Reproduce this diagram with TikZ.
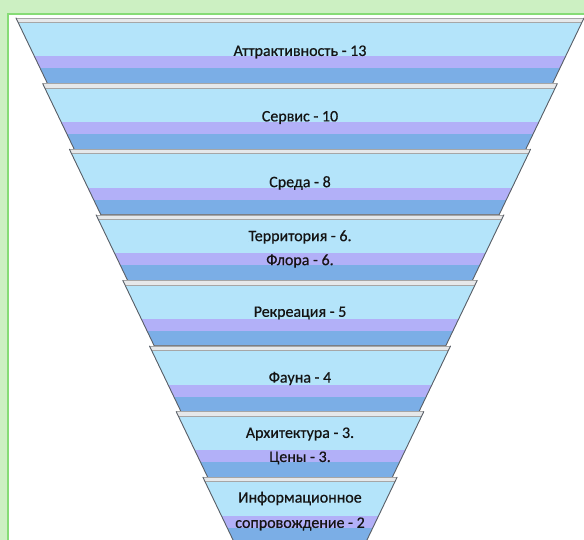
\documentclass[tikz,border=0pt]{standalone}
\usepackage{fontspec}
\setmainfont{Carlito}
\newfontfamily\lblfont[FakeBold=0.6]{Carlito}
\definecolor{bgG}{HTML}{CCF0C2}
\definecolor{bdG}{HTML}{86DC76}
\definecolor{lblue}{HTML}{B4E4FA}
\definecolor{lav}{HTML}{B2B0F8}
\definecolor{mblue}{HTML}{7BAEE6}
\definecolor{lidc}{HTML}{E6E8EA}
\definecolor{edgec}{HTML}{5A5F66}
\definecolor{txt}{HTML}{141414}
\tikzset{
  lbl/.style={font=\lblfont\fontsize{16}{18}\selectfont, text=txt, inner sep=0pt, anchor=center},
  sideline/.style={draw=edgec, line width=0.9pt, line cap=round},
  lidline/.style={draw=black!35, line width=0.5pt},
  botline/.style={draw=edgec!80, line width=0.5pt}
}
\begin{document}
\begin{tikzpicture}[x=1pt,y=-1pt]
\useasboundingbox (0,0) rectangle (584,540);
\clip (0,0) rectangle (584,540);
\fill[bgG] (0,0) rectangle (584,540);
\fill[white] (8,14) rectangle (584,540);
\draw[bdG, line width=1.2pt] (8,541) -- (8,14) -- (585,14);
\foreach \i in {0,...,7}{
  \pgfmathsetmacro\ty{18+65.6*\i}
  \pgfmathsetmacro\by{\ty+65.6}
  \pgfmathsetmacro\tw{284-26.7*\i}
  \pgfmathsetmacro\bw{\tw-31.5}
  \begin{scope}
    \clip (300-\tw,\ty) -- (300+\tw,\ty) -- (300+\bw,\by) -- (300-\bw,\by) -- cycle;
    \fill[mblue] (0,\ty) rectangle (584,\by);
    \fill[lav] (0,\ty) rectangle (584,\ty+50.5);
    \fill[lblue] (0,\ty) rectangle (584,\ty+38.5);
    \fill[lidc] (0,\ty) rectangle (584,\ty+4.5);
    \draw[lidline] (0,\ty+4.5) -- (584,\ty+4.5);
    \draw[botline] (0,\by-0.3) -- (584,\by-0.3);
  \end{scope}
  \draw[lidline] (300-\tw,\ty) -- (300+\tw,\ty);
  \draw[sideline] (300-\tw,\ty) -- (300-\bw,\by);
  \draw[sideline] (300+\tw,\ty) -- (300+\bw,\by);
}
\node[lbl] (t1) at (300,52) {Аттрактивность - 13};
\node[lbl] (t2) at (300,117.5) {Сервис - 10};
\node[lbl] (t3) at (300,183) {Среда - 8};
\node[lbl] (t4a) at (300,237) {Территория - 6.};
\node[lbl] (t4b) at (300,261) {Флора - 6.};
\node[lbl] (t5) at (300,313) {Рекреация - 5};
\node[lbl] (t6) at (300,378.5) {Фауна - 4};
\node[lbl] (t7a) at (300,434) {Архитектура - 3.};
\node[lbl] (t7b) at (300,458) {Цены - 3.};
\node[lbl] (t8a) at (300,498.5) {Информационное};
\node[lbl] (t8b) at (300,524) {сопровождение - 2};
\end{tikzpicture}
\end{document}
